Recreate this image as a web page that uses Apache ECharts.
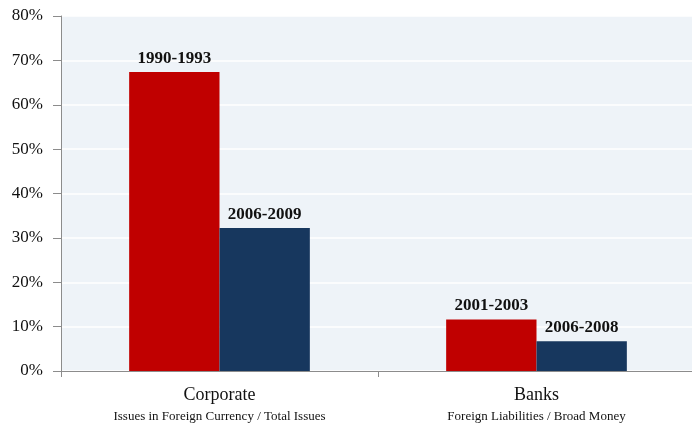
<!DOCTYPE html>
<html>
<head>
<meta charset="utf-8">
<script src="https://cdn.jsdelivr.net/npm/echarts@6/dist/echarts.min.js"></script>
<style>
    html, body { margin: 0; padding: 0; background: #fff; overflow: hidden; }
    #chart { width: 695px; height: 425px; }
</style>
</head>
<body>
<div id="chart"></div>
<script>
// 类目与数值
var categories = ['Corporate', 'Banks'];
var subTitles = ['Issues in Foreign Currency / Total Issues', 'Foreign Liabilities / Broad Money'];
var earlyValues = [67.4, 11.6];
var lateValues = [32.2, 6.7];
var earlyLabels = ['1990-1993', '2001-2003'];
var lateLabels = ['2006-2009', '2006-2008'];

var serif = '"Liberation Serif", "DejaVu Serif", serif';

var chart = echarts.init(document.getElementById('chart'));

function barLabel(names) {
    return {
        show: true,
        position: 'top',
        distance: 5,
        fontFamily: serif,
        fontWeight: 'bold',
        fontSize: 17,
        color: '#111',
        formatter: function(p) {
            return names[p.dataIndex];
        }
    };
}

var option = {
    animation: false,
    grid: {
        left: 61,
        right: 0,
        top: 16,
        bottom: 54,
        show: true,
        backgroundColor: '#eef3f8',
        borderWidth: 0
    },
    xAxis: {
        type: 'category',
        data: categories,
        axisLine: { lineStyle: { color: '#8c8c8c', width: 1 } },
        axisTick: { show: true, length: 6, lineStyle: { color: '#8c8c8c' } },
        axisLabel: {
            margin: 13,
            interval: 0,
            formatter: function(val, idx) {
                return '{a|' + val + '}\n{b|' + subTitles[idx] + '}';
            },
            rich: {
                a: { fontFamily: serif, fontSize: 18, color: '#111', lineHeight: 22 },
                b: { fontFamily: serif, fontSize: 13, color: '#111', lineHeight: 21 }
            }
        }
    },
    yAxis: {
        type: 'value',
        min: 0,
        max: 80,
        interval: 10,
        axisLine: { show: true, lineStyle: { color: '#8c8c8c', width: 1 } },
        axisTick: { show: true, length: 8, lineStyle: { color: '#8c8c8c' } },
        splitLine: { show: true, lineStyle: { color: '#ffffff', width: 1.5 } },
        axisLabel: {
            margin: 18,
            fontFamily: serif,
            fontSize: 17,
            color: '#111',
            formatter: '{value}%'
        }
    },
    series: [
        {
            type: 'bar',
            data: earlyValues,
            barGap: '0%',
            barCategoryGap: '43%',
            itemStyle: { color: '#c00000' },
            label: barLabel(earlyLabels)
        },
        {
            type: 'bar',
            data: lateValues,
            itemStyle: { color: '#17375e' },
            label: barLabel(lateLabels)
        }
    ]
};

chart.setOption(option);
</script>
</body>
</html>
